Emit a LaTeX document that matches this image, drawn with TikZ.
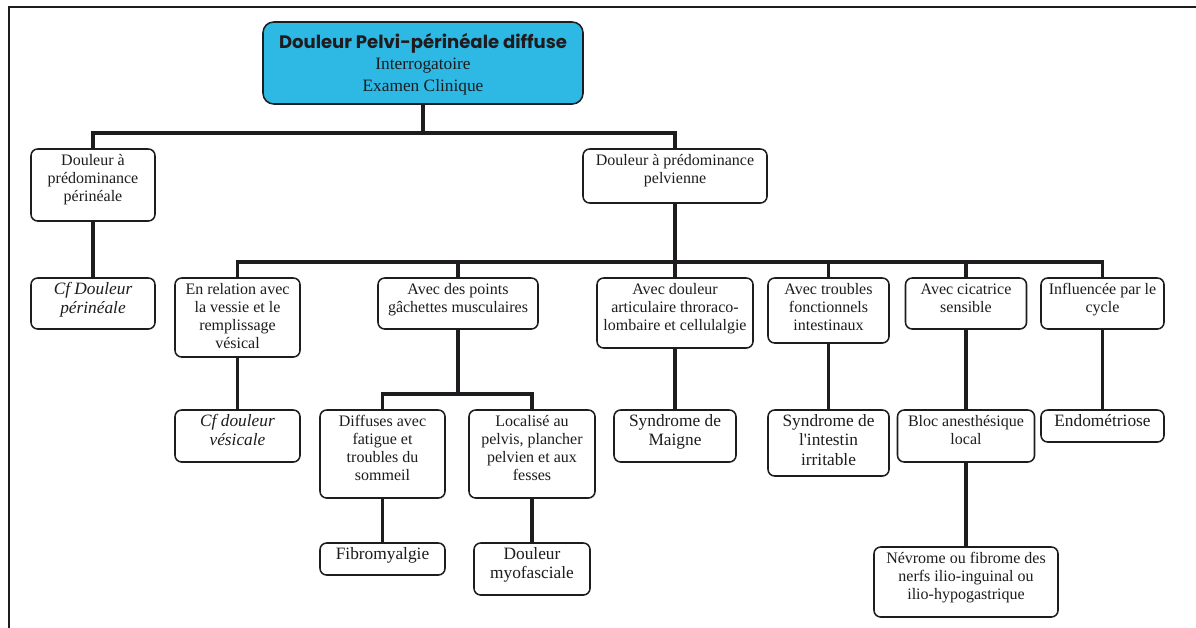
\documentclass[tikz,border=0pt]{standalone}
\usepackage{fontspec}
\usepackage{graphicx}
\setmainfont{Liberation Serif}
\newfontfamily\titlefont{Poppins}
\definecolor{topfill}{RGB}{46,184,228}
\definecolor{ink}{RGB}{30,28,30}
\newcommand{\fa}{\fontsize{12pt}{13.6pt}\selectfont}
\newcommand{\fb}{\fontsize{13pt}{14.7pt}\selectfont}
% #1 font, #2 width px, #3 height px, #4 text
\newcommand{\bxw}[4][\fa]{\begin{minipage}[t][\dimexpr #3pt*3/4\relax][t]{\dimexpr #2pt*3/4\relax}\centering #1\rule{0pt}{12pt}#4\end{minipage}}
\begin{document}
\begin{tikzpicture}[x=0.75pt,y=-0.75pt,
  box/.style={draw=ink, line width=1.15pt, rounded corners=5pt, inner sep=0pt, fill=white, text=ink},
  conn/.style={draw=ink, line width=2.6pt},
  frame/.style={draw=ink, line width=1.6pt}]
\useasboundingbox (0,0) rectangle (1196,628);
\draw[frame] (9,628) -- (9,7) -- (1196,7);

\node[box, fill=topfill, rounded corners=8pt] (top) at (423,63) {\begin{minipage}[t][61.5pt][t]{240pt}\centering\fontsize{13pt}{16.2pt}\selectfont\rule{0pt}{19.5pt}{\titlefont\bfseries\resizebox{216pt}{!}{Douleur Pelvi-périnéale diffuse}}\\ Interrogatoire\\ Examen Clinique\end{minipage}};

\node[box] (peri) at (93,185) {\bxw{124}{72}{Douleur à\\ prédominance\\ périnéale}};
\node[box] (pelv) at (675,176) {\bxw{184}{54}{Douleur à prédominance\\ pelvienne}};
\node[box] (cfperi) at (93,303.5) {\bxw[\fb]{124}{51}{\itshape Cf Douleur\\ périnéale}};

\node[box] (vessie) at (237.5,317.5) {\bxw{125}{79}{En relation avec\\ la vessie et le\\ remplissage\\ vésical}};
\node[box] (gach) at (458,303.5) {\bxw{160}{51}{Avec des points\\ gâchettes musculaires}};
\node[box] (artic) at (675,313) {\bxw{156}{70}{Avec douleur\\ articulaire throraco-\\ lombaire et cellulalgie}};
\node[box] (intest) at (828.5,310.5) {\bxw{121}{65}{Avec troubles\\ fonctionnels\\ intestinaux}};
\node[box] (cicat) at (966,303.5) {\bxw{121}{51}{Avec cicatrice\\ sensible}};
\node[box] (cycle) at (1102.5,303.5) {\bxw{123}{51}{Influencée par le\\ cycle}};

\node[box] (cfves) at (237.5,436) {\bxw[\fb]{125}{52}{\itshape Cf douleur\\ vésicale}};
\node[box] (diff) at (382.5,454) {\bxw{125}{88}{Diffuses avec\\ fatigue et\\ troubles du\\ sommeil}};
\node[box] (loc) at (532,454) {\bxw{126}{88}{Localisé au\\ pelvis, plancher\\ pelvien et aux\\ fesses}};
\node[box] (maigne) at (675,436) {\bxw[\fb]{122}{52}{Syndrome de\\ Maigne}};
\node[box] (irrit) at (828.5,443) {\bxw[\fb]{121}{66}{Syndrome de\\ l\textquotesingle intestin\\ irritable}};
\node[box] (bloc) at (966,436) {\bxw{137}{52}{Bloc anesthésique\\ local}};
\node[box] (endo) at (1102.5,426) {\bxw[\fb]{123}{32}{Endométriose}};

\node[box] (fibro) at (382.5,559) {\bxw[\fb]{125}{32}{Fibromyalgie}};
\node[box] (myo) at (532,569) {\bxw[\fb]{116}{52}{Douleur\\ myofasciale}};
\node[box] (nev) at (966,582) {\bxw{184}{70}{Névrome ou fibrome des\\ nerfs ilio-inguinal ou\\ ilio-hypogastrique}};

\coordinate (b1) at (0,133);
\coordinate (b2) at (0,262);
\coordinate (b3) at (0,394);

\draw[conn] (top.south) -- (top.south |- b1);
\draw[conn] (peri.north) -- (peri.north |- b1) -- (pelv.north |- b1) -- (pelv.north);
\draw[conn] (peri.south) -- (cfperi.north);
\draw[conn] (pelv.south) -- (artic.north);
\draw[conn] (vessie.north) -- (vessie.north |- b2) -- (cycle.north |- b2) -- (cycle.north);
\draw[conn] (gach.north) -- (gach.north |- b2);
\draw[conn] (intest.north) -- (intest.north |- b2);
\draw[conn] (cicat.north) -- (cicat.north |- b2);
\draw[conn] (vessie.south) -- (cfves.north);
\draw[conn] (gach.south) -- (gach.south |- b3);
\draw[conn] (diff.north) -- (diff.north |- b3) -- (loc.north |- b3) -- (loc.north);
\draw[conn] (diff.south) -- (fibro.north);
\draw[conn] (loc.south) -- (myo.north);
\draw[conn] (artic.south) -- (maigne.north);
\draw[conn] (intest.south) -- (irrit.north);
\draw[conn] (cicat.south) -- (bloc.north);
\draw[conn] (bloc.south) -- (nev.north);
\draw[conn] (cycle.south) -- (endo.north);
\end{tikzpicture}
\end{document}
